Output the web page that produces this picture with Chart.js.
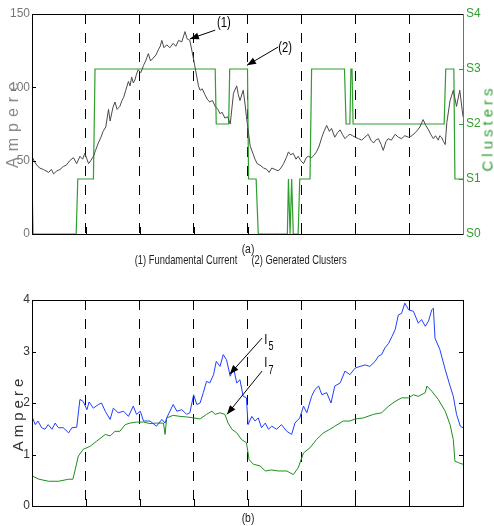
<!DOCTYPE html>
<html>
<head>
<meta charset="utf-8">
<script src="https://cdn.jsdelivr.net/npm/chart.js@4/dist/chart.umd.min.js"></script>
<style>
  body { margin: 0; background: #fff; }
  #wrap { position: relative; width: 494px; height: 526px; overflow: hidden; font-family: 'Liberation Sans', Arial, sans-serif; }
  canvas { position: absolute; left: 0; }
  .txt { position: absolute; white-space: nowrap; line-height: 1; }
  .rot { transform: translate(-50%, -50%) rotate(-90deg); }
</style>
</head>
<body>
<div id="wrap">
  <canvas id="top-chart" width="494" height="270" style="top:0"></canvas>
  <canvas id="bottom-chart" width="494" height="246" style="top:280px"></canvas>

  <div class="txt rot" style="left:13px; top:122px; color:#8a8a8a; font-size:16px; letter-spacing:6px;">Ampere</div>
  <div class="txt rot" style="left:487px; top:128px; color:#2e9e2e; font-size:15px; letter-spacing:4px;">Clusters</div>
  <div class="txt" style="left:248px; top:242px; font-size:13px; color:#222; transform:translateX(-50%) scaleX(0.8);">(a)</div>
  <div class="txt" style="left:186px; top:253px; font-size:13px; color:#222; transform:translateX(-50%) scaleX(0.72);">(1) Fundamental Current</div>
  <div class="txt" style="left:299px; top:253px; font-size:13px; color:#222; transform:translateX(-50%) scaleX(0.72);">(2) Generated Clusters</div>

  <div class="txt rot" style="left:17px; top:413px; color:#333; font-size:15px; letter-spacing:4px;">Ampere</div>
  <div class="txt" style="left:248px; top:511px; font-size:13px; color:#222; transform:translateX(-50%) scaleX(0.8);">(b)</div>
</div>
<script>
// ---- (a) fundamental current, Ampere, sample index 0..800
const currentX = [0, 5, 9, 14, 21, 26, 31, 36, 40, 46, 52, 58, 64, 70, 77, 83, 89, 94, 98, 105,
  109, 114, 118, 123, 128, 132, 137, 142, 145, 150, 154, 158, 163, 167, 170, 174, 179, 182, 185, 188,
  191, 194, 197, 202, 207, 211, 216, 220, 225, 230, 235, 238, 241, 245, 250, 256, 262, 267, 272, 278,
  284, 288, 293, 300, 306, 309, 312, 316, 321, 325, 330, 335, 340, 345, 349, 353, 358, 363, 368, 374,
  380, 383, 386, 392, 395, 398, 405, 414, 418, 423, 430, 436, 440, 445, 451, 457, 462, 467, 472, 476,
  480, 485, 490, 494, 499, 504, 509, 513, 519, 524, 528, 533, 538, 542, 547, 552, 556, 562, 567, 572,
  576, 581, 586, 590, 595, 600, 606, 612, 618, 624, 629, 634, 638, 643, 648, 652, 657, 661, 667, 674,
  680, 686, 692, 699, 705, 711, 716, 720, 726, 731, 736, 740, 745, 749, 754, 757, 760, 764, 767, 770,
  776, 782, 788, 794, 800];
const currentA = [53, 49, 47, 45, 44, 43, 42, 44, 41, 43, 44, 46, 47, 50, 52, 48, 53, 51, 55, 48,
  50, 53, 57, 62, 66, 70, 73, 85, 77, 86, 90, 85, 87, 91, 93, 98, 104, 101, 107, 103,
  105, 109, 112, 110, 115, 118, 123, 118, 120, 122, 126, 128, 132, 127, 129, 127, 130, 128, 132, 131,
  138, 133, 132, 119, 107, 101, 98, 99, 95, 92, 90, 91, 87, 85, 82, 83, 79, 80, 75, 96,
  101, 95, 91, 98, 90, 80, 60, 51, 48, 47, 45, 44, 42, 45, 44, 43, 45, 48, 52, 56,
  54, 55, 51, 53, 50, 48, 52, 53, 52, 54, 56, 60, 66, 70, 74, 70, 72, 66, 69, 71,
  68, 65, 67, 68, 67, 66, 65, 64, 66, 68, 64, 62, 64, 65, 61, 57, 63, 65, 64, 68,
  66, 65, 67, 66, 67, 69, 71, 73, 78, 74, 71, 68, 65, 67, 64, 67, 66, 63, 61, 76,
  91, 98, 87, 98, 80];

// ---- (a) generated clusters, level 0..3 (S0..S3)
const clusterX = [0, 2, 82, 85, 114, 117, 340, 342, 365, 367, 400, 402, 416, 420, 474, 476, 479, 482, 485, 494,
  497, 516, 519, 580, 583, 590, 592, 594, 596, 765, 768, 783, 785, 800];
const clusterS = [1, 0, 0, 1, 1, 3, 3, 2, 2, 3, 3, 1, 1, 0, 0, 1, 0, 1, 0, 0,
  1, 1, 3, 3, 2, 2, 3, 3, 2, 2, 3, 3, 1, 1];
const clusterLabels = ['S0', 'S1', 'S2', 'S3', 'S4'];

// ---- (b) I5 harmonic, Ampere
const i5X = [1, 6, 11, 18, 24, 30, 37, 43, 49, 58, 68, 74, 83, 89, 95, 102, 106, 114, 123, 129,
  136, 145, 151, 160, 170, 179, 188, 194, 201, 207, 219, 231, 241, 247, 250, 256, 262, 269, 278, 287,
  293, 300, 306, 312, 318, 324, 330, 337, 342, 349, 355, 361, 368, 374, 380, 386, 392, 398, 401, 408,
  414, 420, 426, 433, 439, 445, 454, 463, 473, 482, 488, 497, 504, 510, 519, 525, 532, 538, 547, 555,
  562, 572, 581, 590, 600, 609, 618, 627, 637, 643, 649, 655, 662, 668, 674, 680, 686, 692, 699, 708,
  717, 723, 730, 736, 742, 745, 748, 757, 767, 776, 782, 788, 795, 800];
const i5A = [1.71, 1.58, 1.65, 1.52, 1.49, 1.58, 1.49, 1.61, 1.52, 1.52, 1.42, 1.52, 1.53, 2.07, 2.03, 1.87, 2.02, 1.9, 1.97, 2.0,
  1.84, 1.68, 1.9, 1.81, 1.84, 1.74, 1.94, 1.78, 1.84, 1.65, 1.65, 1.55, 1.68, 1.61, 1.71, 1.84, 1.97, 1.84, 1.87, 1.78,
  1.81, 2.16, 1.97, 2.0, 2.2, 2.42, 2.39, 2.55, 2.81, 2.71, 2.94, 2.84, 2.52, 2.68, 2.39, 2.45, 2.13, 2.1, 1.58, 1.74,
  1.65, 1.71, 1.52, 1.61, 1.49, 1.55, 1.49, 1.58, 1.45, 1.39, 1.61, 1.71, 1.94, 1.81, 2.13, 2.26, 2.33, 2.16, 2.2, 2.0,
  2.33, 2.39, 2.62, 2.55, 2.68, 2.71, 2.74, 2.71, 2.81, 2.91, 2.94, 3.07, 3.16, 3.29, 3.42, 3.71, 3.74, 3.94, 3.81, 3.78,
  3.55, 3.62, 3.49, 3.59, 3.81, 3.84, 3.26, 3.04, 2.65, 2.33, 2.13, 1.78, 1.55, 1.52];

// ---- (b) I7 harmonic, Ampere
const i7X = [1, 13, 31, 49, 68, 76, 86, 95, 108, 120, 136, 145, 154, 163, 173, 182, 194, 207, 219, 231,
  244, 247, 250, 262, 275, 287, 300, 312, 324, 334, 340, 349, 358, 364, 371, 380, 389, 398, 403, 411,
  423, 433, 445, 457, 473, 485, 494, 504, 516, 528, 541, 553, 562, 578, 590, 600, 615, 634, 649, 662,
  674, 686, 699, 708, 717, 730, 733, 742, 754, 767, 776, 782, 785, 792, 800];
const i7A = [0.58, 0.52, 0.48, 0.48, 0.52, 0.52, 0.97, 1.10, 1.16, 1.26, 1.39, 1.36, 1.45, 1.45, 1.58, 1.61, 1.63, 1.63, 1.60, 1.61,
  1.61, 1.39, 1.71, 1.76, 1.74, 1.73, 1.71, 1.69, 1.78, 1.84, 1.78, 1.81, 1.78, 1.61, 1.49, 1.42, 1.29, 1.23, 0.9, 0.81,
  0.78, 0.68, 0.70, 0.68, 0.68, 0.61, 0.74, 1.03, 1.13, 1.29, 1.42, 1.49, 1.55, 1.65, 1.65, 1.69, 1.71, 1.78, 1.81, 1.94,
  2.03, 2.10, 2.10, 2.16, 2.13, 2.2, 2.33, 2.23, 2.07, 1.84, 1.58, 1.29, 0.87, 0.84, 0.81];

const FONT = "'Liberation Sans', Arial, sans-serif";
Chart.defaults.font.family = FONT;

const toPoints = (xs, ys) => xs.map((x, i) => ({x: x, y: ys[i]}));

// frame, inward tick marks and arrow notes
const framePlugin = {
  id: 'frame',
  afterDraw(chart, args, opts) {
    const ctx = chart.ctx;
    const a = chart.chartArea;
    ctx.save();
    ctx.lineWidth = 1;
    ctx.strokeStyle = '#000';
    const xs = chart.scales.x;
    xs.ticks.forEach(t => {
      if (t.value <= xs.min || t.value >= xs.max) return;
      const px = Math.round(xs.getPixelForValue(t.value)) + 0.5;
      ctx.beginPath(); ctx.moveTo(px, a.bottom); ctx.lineTo(px, a.bottom - 7); ctx.stroke();
    });
    ['y', 'y2'].forEach(id => {
      const s = chart.scales[id];
      if (!s) return;
      ctx.strokeStyle = id === 'y2' ? opts.rightColor : '#000';
      s.ticks.forEach(t => {
        if (t.value <= s.min || t.value >= s.max) return;
        const py = Math.round(s.getPixelForValue(t.value)) + 0.5;
        ctx.beginPath();
        if (id === 'y') { ctx.moveTo(a.left, py); ctx.lineTo(a.left + 4, py); }
        else { ctx.moveTo(a.right, py); ctx.lineTo(a.right - 4, py); }
        ctx.stroke();
      });
    });
    ctx.strokeStyle = '#000';
    ctx.strokeRect(Math.round(a.left) + 0.5, Math.round(a.top) + 0.5, Math.round(a.width), Math.round(a.height));
    ctx.strokeStyle = opts.rightColor;
    ctx.beginPath();
    ctx.moveTo(Math.round(a.right) + 0.5, a.top); ctx.lineTo(Math.round(a.right) + 0.5, a.bottom + 1);
    ctx.stroke();

    // notes
    const ys = chart.scales.y;
    ctx.strokeStyle = '#000';
    ctx.fillStyle = '#000';
    (opts.notes || []).forEach(n => {
      const x1 = xs.getPixelForValue(n.from[0]), y1 = ys.getPixelForValue(n.from[1]);
      const x2 = xs.getPixelForValue(n.to[0]), y2 = ys.getPixelForValue(n.to[1]);
      ctx.beginPath(); ctx.moveTo(x1, y1); ctx.lineTo(x2, y2); ctx.stroke();
      const ang = Math.atan2(y2 - y1, x2 - x1);
      ctx.beginPath();
      ctx.moveTo(x2, y2);
      ctx.lineTo(x2 - 9 * Math.cos(ang) + 3.5 * Math.sin(ang), y2 - 9 * Math.sin(ang) - 3.5 * Math.cos(ang));
      ctx.lineTo(x2 - 9 * Math.cos(ang) - 3.5 * Math.sin(ang), y2 - 9 * Math.sin(ang) + 3.5 * Math.cos(ang));
      ctx.closePath(); ctx.fill();
      const tx = xs.getPixelForValue(n.at[0]), ty = ys.getPixelForValue(n.at[1]);
      ctx.save();
      ctx.translate(tx, ty);
      ctx.scale(0.75, 1);
      ctx.font = '15px ' + FONT;
      ctx.textBaseline = 'middle';
      ctx.textAlign = 'center';
      ctx.fillText(n.text, 0, 0);
      if (n.sub) {
        ctx.font = '12px ' + FONT;
        ctx.fillText(n.sub, 7, 7);
      }
      ctx.restore();
    });
    ctx.restore();
  }
};

const xAxis = (h) => ({
  type: 'linear', min: 0, max: 800,
  ticks: { display: false, stepSize: 100 },
  grid: {
    drawTicks: false, lineWidth: 1,
    color: c => (c.tick && (c.tick.value === 0 || c.tick.value === 800)) ? 'rgba(0,0,0,0)' : '#000'
  },
  border: { display: false, dash: [10, 9] },
  afterFit: s => { s.height = h; }
});

new Chart(document.getElementById('top-chart').getContext('2d'), {
  type: 'line',
  data: {
    datasets: [{
      label: 'Fundamental Current',
      data: toPoints(currentX, currentA),
      borderColor: '#4a4a4a', borderWidth: 1, pointRadius: 0, tension: 0, yAxisID: 'y'
    }, {
      label: 'Generated Clusters',
      data: toPoints(clusterX, clusterS),
      borderColor: '#2e9e2e', borderWidth: 1.2, pointRadius: 0, tension: 0, yAxisID: 'y2'
    }]
  },
  options: {
    responsive: false, animation: false,
    layout: { padding: { top: 14, left: 0, right: 0, bottom: 0 } },
    plugins: {
      legend: { display: false }, tooltip: { enabled: false },
      frame: {
        rightColor: '#2e9e2e',
        notes: [
          { text: '(1)', at: [356, 144], from: [340, 139], to: [293, 133] },
          { text: '(2)', at: [470, 127], from: [457, 127.5], to: [399, 115] }
        ]
      }
    },
    scales: {
      x: xAxis(36),
      y: {
        position: 'left', min: 0, max: 150,
        ticks: { stepSize: 50, color: '#777', padding: 2, font: { size: 12 } },
        grid: { display: false, drawTicks: false },
        border: { display: false },
        afterFit: s => { s.width = 32; }
      },
      y2: {
        position: 'right', min: 0, max: 4,
        ticks: { stepSize: 1, color: '#2e9e2e', padding: 3, font: { size: 12 }, callback: v => clusterLabels[v] },
        grid: { display: false, drawTicks: false },
        border: { display: false },
        afterFit: s => { s.width = 31; }
      }
    }
  },
  plugins: [framePlugin]
});

new Chart(document.getElementById('bottom-chart').getContext('2d'), {
  type: 'line',
  data: {
    datasets: [{
      label: 'I5',
      data: toPoints(i5X, i5A),
      borderColor: '#1f3fff', borderWidth: 1, pointRadius: 0, tension: 0
    }, {
      label: 'I7',
      data: toPoints(i7X, i7A),
      borderColor: '#1b8f1b', borderWidth: 1, pointRadius: 0, tension: 0
    }]
  },
  options: {
    responsive: false, animation: false,
    layout: { padding: { top: 20, left: 0, right: 0, bottom: 0 } },
    plugins: {
      legend: { display: false }, tooltip: { enabled: false },
      frame: {
        rightColor: '#000',
        notes: [
          { text: 'I', sub: '5', at: [434, 3.22], from: [427, 3.26], to: [367, 2.56] },
          { text: 'I', sub: '7', at: [434, 2.77], from: [427, 2.62], to: [362, 1.78] }
        ]
      }
    },
    scales: {
      x: xAxis(20),
      y: {
        position: 'left', min: 0, max: 4,
        ticks: { stepSize: 1, color: '#333', padding: 2, font: { size: 12 } },
        grid: { display: false, drawTicks: false },
        border: { display: false },
        afterFit: s => { s.width = 32; }
      },
      y2: {
        position: 'right', min: 0, max: 4,
        ticks: { display: false, stepSize: 1 },
        grid: { display: false, drawTicks: false },
        border: { display: false },
        afterFit: s => { s.width = 31; }
      }
    }
  },
  plugins: [framePlugin]
});
</script>
</body>
</html>
